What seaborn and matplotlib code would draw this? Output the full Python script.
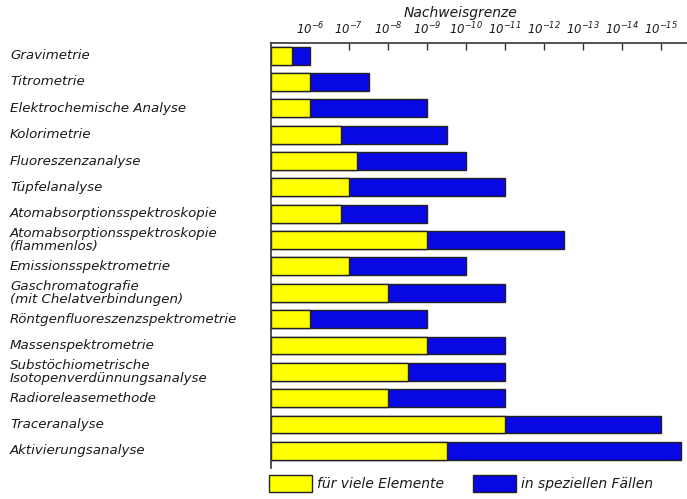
import seaborn as sns
import matplotlib.pyplot as plt
import pandas as pd
from matplotlib.patches import Patch

# detection limit, in decades below 1e-5 (0 -> 1e-5, 1 -> 1e-6, ...)
methods = [
    "Gravimetrie",
    "Titrometrie",
    "Elektrochemische Analyse",
    "Kolorimetrie",
    "Fluoreszenzanalyse",
    "Tüpfelanalyse",
    "Atomabsorptionsspektroskopie",
    "Atomabsorptionsspektroskopie\n(flammenlos)",
    "Emissionsspektrometrie",
    "Gaschromatografie\n(mit Chelatverbindungen)",
    "Röntgenfluoreszenzspektrometrie",
    "Massenspektrometrie",
    "Substöchiometrische\nIsotopenverdünnungsanalyse",
    "Radioreleasemethode",
    "Traceranalyse",
    "Aktivierungsanalyse",
]
many_elements = [0.55, 1.0, 1.0, 1.8, 2.2, 2.0, 1.8, 4.0, 2.0, 3.0, 1.0, 4.0, 3.5, 3.0, 6.0, 4.5]
special_cases = [1.0, 2.5, 4.0, 4.5, 5.0, 6.0, 4.0, 7.5, 5.0, 6.0, 4.0, 6.0, 6.0, 6.0, 10.0, 10.5]
exponents = [-6, -7, -8, -9, -10, -11, -12, -13, -14, -15]

df = pd.DataFrame({"method": methods, "viele": many_elements, "speziell": special_cases})

YELLOW = "#FFFF00"
BLUE = "#0808E4"
INK = "#1a1a1a"

sns.set_style("white")
plt.rcParams["font.family"] = ["DejaVu Sans"]
plt.rcParams["font.style"] = "italic"
plt.rcParams["text.color"] = INK
plt.rcParams["mathtext.default"] = "it"

fig = plt.figure(figsize=(6.87, 4.99), dpi=100)
ax = fig.add_axes([271 / 687, 31 / 499, 416 / 687, 425 / 499])

sns.barplot(data=df, x="speziell", y="method", color=BLUE, edgecolor="#222222",
            linewidth=1.0, width=0.68, saturation=1, ax=ax)
sns.barplot(data=df, x="viele", y="method", color=YELLOW, edgecolor="#222222",
            linewidth=1.0, width=0.68, saturation=1, ax=ax)

ax.set_xlim(0, 416 / 39)
ax.set_ylim(len(methods) - 0.35, -0.48)
ax.set_xlabel("")
ax.set_ylabel("")

ax.xaxis.tick_top()
ax.set_xticks(range(1, len(exponents) + 1))
ax.set_xticklabels([f"$10^{{{e}}}$" for e in exponents], fontsize=8.5, color=INK)
ax.tick_params(axis="x", direction="in", length=5, width=1, color="#333333", pad=4)
ax.xaxis.get_major_ticks()[0].tick2line.set_visible(False)

ax.set_yticks(range(len(methods)))
ax.set_yticklabels([])
ax.tick_params(axis="y", length=0)
for i, name in enumerate(methods):
    ax.annotate(name, xy=(10 / 687, i), xycoords=("figure fraction", "data"),
                ha="left", va="center", fontsize=9.6, style="italic", color=INK,
                linespacing=0.95, annotation_clip=False)

for s in ["bottom", "right"]:
    ax.spines[s].set_visible(False)
for s in ["top", "left"]:
    ax.spines[s].set_color("#333333")
    ax.spines[s].set_linewidth(1.2)

fig.text(460 / 687, 1 - 13 / 499, "Nachweisgrenze", ha="center", va="center",
         fontsize=10, style="italic")

handles = [Patch(facecolor=YELLOW, edgecolor="#222222", label="für viele Elemente"),
           Patch(facecolor=BLUE, edgecolor="#222222", label="in speziellen Fällen")]
fig.legend(handles=handles, loc="upper left", bbox_to_anchor=(269 / 687, 1 - 475 / 499),
           ncol=2, frameon=False, fontsize=10, handlelength=3.1, handleheight=1.5,
           handletextpad=0.35, columnspacing=2.1, borderpad=0, borderaxespad=0)

fig.savefig("out.png", dpi=100)
